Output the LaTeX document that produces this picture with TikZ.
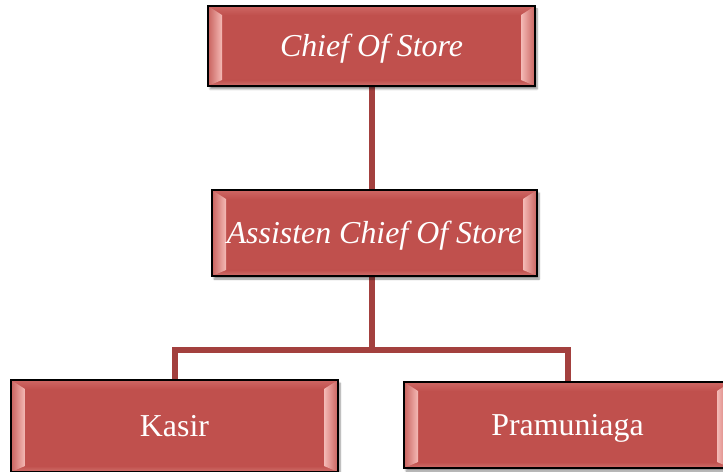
\documentclass[tikz,border=0pt]{standalone}
\usepackage{fontspec}
\setmainfont{Liberation Serif}
\usetikzlibrary{calc,shadows.blur,backgrounds}
\definecolor{boxred}{HTML}{C0504D}
\definecolor{bevpink}{HTML}{F4BAB6}
\definecolor{bevmid}{HTML}{C9625E}
\definecolor{bevtop}{HTML}{CE6764}
\definecolor{bevbot}{HTML}{D0706C}
\definecolor{connred}{HTML}{A3403E}
\newcommand\mybevel{%
  \coordinate (pNW) at (path picture bounding box.north west);
  \coordinate (pNE) at (path picture bounding box.north east);
  \coordinate (pSE) at (path picture bounding box.south east);
  \coordinate (pSW) at (path picture bounding box.south west);
  \coordinate (qNW) at ($(pNW)+(14,9)$);
  \coordinate (qNE) at ($(pNE)+(-14,9)$);
  \coordinate (qSE) at ($(pSE)+(-14,-6)$);
  \coordinate (qSW) at ($(pSW)+(14,-6)$);
  \shade[top color=bevtop,bottom color=boxred] (pNW)--(pNE)--(qNE)--(qNW)--cycle;
  \shade[top color=boxred,bottom color=bevbot] (pSW)--(pSE)--(qSE)--(qSW)--cycle;
  \shade[left color=bevmid,right color=bevpink] (pNW)--(qNW)--(qSW)--(pSW)--cycle;
  \shade[left color=bevpink,right color=bevmid] (pNE)--(qNE)--(qSE)--(pSE)--cycle;
}
\tikzset{
  orgbox/.style={rectangle, fill=boxred, draw=black, line width=1.5bp,
    text=white, inner sep=0pt, text height=21bp, text depth=0pt,
    path picture={\mybevel},
    blur shadow={shadow xshift=2bp, shadow yshift=-3bp, shadow blur steps=6, shadow opacity=45},
    font=\fontsize{32}{38}\selectfont},
  conn/.style={draw=connred, line width=6bp}
}
\begin{document}
\begin{tikzpicture}[x=1bp,y=-1bp]
\useasboundingbox (0,0) rectangle (723,472);
\node[orgbox, minimum width=327bp, minimum height=80bp] (b1) at (371.5,46) {\itshape Chief Of Store};
\node[orgbox, minimum width=325bp, minimum height=86bp] (b2) at (374.5,233) {\itshape Assisten Chief Of Store};
\node[orgbox, minimum width=327bp, minimum height=92bp] (kasir) at (174.5,426) {Kasir};
\node[orgbox, minimum width=327bp, minimum height=86bp] (pram) at (567.5,425) {Pramuniaga};
\coordinate (j) at (371.5,350);
\begin{scope}[on background layer]
\draw[conn] (b1.south) -- (b1.south |- b2.north);
\draw[conn] (b1.south |- b2.south) -- (j);
\draw[conn] (j) -| (kasir.north);
\draw[conn] (j) -| (pram.north);
\end{scope}
\end{tikzpicture}
\end{document}
